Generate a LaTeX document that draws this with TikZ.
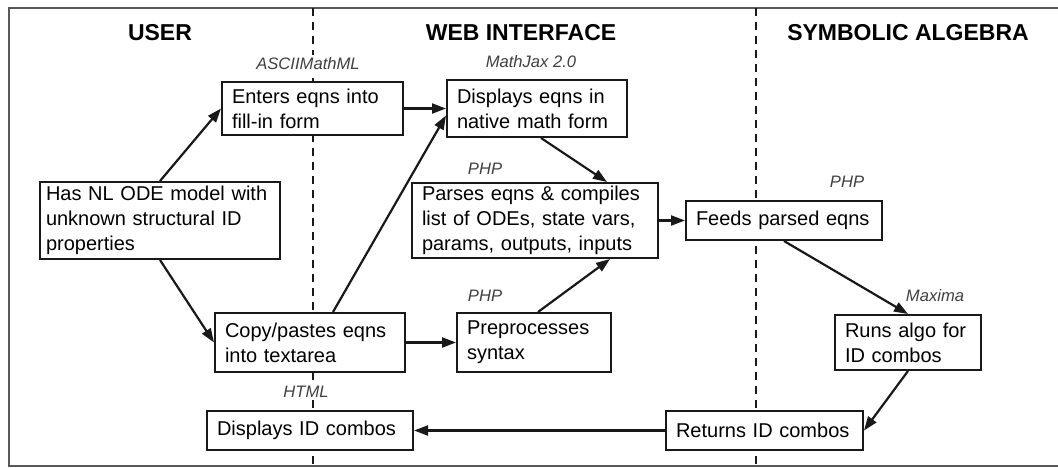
\documentclass[tikz,border=0pt]{standalone}
\usepackage{fontspec}
\setmainfont{Liberation Sans}
\usetikzlibrary{
    arrows.meta,
    positioning
}
\definecolor{inkgray}{rgb}{0.1, 0.1, 0.1}
\definecolor{notegray}{rgb}{0.25, 0.25, 0.25}
\tikzstyle{stage} = [
    rectangle,
    draw=inkgray,
    line width=1pt,
    fill=white,
    inner xsep=5pt,
    inner ysep=1pt,
    align=left,
    font=\fontsize{10}{12.5}\selectfont
]
\tikzstyle{tool} = [
    fill=white,
    inner sep=1pt,
    text=notegray,
    font=\fontsize{8.3}{10}\selectfont\itshape
]
\tikzstyle{lane} = [
    font=\fontsize{11.5}{14}\selectfont\bfseries
]
\tikzstyle{arrow} = [
    ->,
    >={Triangle[length=7pt,width=5pt]},
    line width=1.1pt,
    draw=inkgray
]
\tikzstyle{divider} = [
    dash pattern=on 4pt off 3pt,
    line width=1pt,
    draw=inkgray
]

\begin{document}
\begin{tikzpicture}[x=0.5pt, y=-0.5pt]
        \useasboundingbox (0,0) rectangle (1058,467);
        % Frame and lanes
        \draw[line width=1pt, draw=gray!70!black] (1058,8) -- (9,8) -- (9,466) -- (1058,466);
        \draw[divider] (313,8) -- (313,466);
        \draw[divider] (756,8) -- (756,466);
        \node[lane] (user) at (160,33) {USER};
        \node[lane] (web) at (521,33) {WEB INTERFACE};
        \node[lane] (alg) at (908,33) {SYMBOLIC ALGEBRA};

        % User side
        \node[stage, inner xsep=3pt, text width=114pt, minimum height=38.5pt] (model) at (160,220.5) {Has NL ODE model with\\unknown structural ID\\properties};
        \node[stage, text width=80.5pt, minimum height=26.5pt] (enter) at (312.5,108.5) {Enters eqns into\\fill-in form};
        \node[stage, text width=85pt, minimum height=29.5pt] (copy) at (310,342.5) {Copy/pastes eqns\\into textarea};
        \node[stage, text width=93pt, minimum height=19.5pt] (shows) at (310,430.5) {Displays ID combos};

        % Web interface
        \node[stage, text width=80pt, minimum height=28.5pt] (display) at (537,108.5) {Displays eqns in\\native math form};
        \node[stage, text width=113pt, minimum height=37.5pt] (parse) at (535,220.5) {Parses eqns \& compiles\\list of ODEs, state vars,\\params, outputs, inputs};
        \node[stage, text width=67pt, minimum height=29.5pt] (prep) at (534,342.5) {Preprocesses\\syntax};
        \node[stage, text width=88pt, minimum height=19.5pt] (feed) at (784,220.5) {Feeds parsed eqns};
        \node[stage, text width=88.5pt, minimum height=19.5pt] (returns) at (764.5,430.5) {Returns ID combos};

        % Symbolic algebra
        \node[stage, text width=63pt, minimum height=27.5pt] (runs) at (908,342.5) {Runs algo for\\ID combos};

        % Tools
        \node[tool, above=4.5pt of enter, xshift=-2.25pt] (ascii) {ASCIIMathML};
        \node[tool, above=4.5pt of display, xshift=-3pt] (mathjax) {MathJax 2.0};
        \node[tool, above=2.5pt of parse, xshift=-25pt] (phpparse) {PHP};
        \node[tool, above=5pt of feed, xshift=31.5pt] (phpfeed) {PHP};
        \node[tool, above=4pt of prep, xshift=-24.5pt] (phpprep) {PHP};
        \node[tool, above=5pt of runs, xshift=13.5pt] (maxima) {Maxima};
        \node[tool, above=5pt of shows, xshift=-2pt] (html) {HTML};

        % Arrows
        \draw[arrow] (model.north) -- (enter.west);
        \draw[arrow] (model.south) -- (copy.west);
        \draw[arrow] (enter.east) -- (display.west);
        \draw[arrow] ([xshift=11.5pt]copy.north) -- ([yshift=-3.5pt]display.west);
        \draw[arrow] (copy.east) -- (prep.west);
        \draw[arrow] ([xshift=2pt]display.south) -- ([xshift=36pt]parse.north);
        \draw[arrow] ([xshift=2pt]prep.north) -- ([xshift=37.5pt]parse.south);
        \draw[arrow] (parse.east) -- (feed.west);
        \draw[arrow] (feed.south) -- (runs.north);
        \draw[arrow] (runs.south) -- (returns.east);
        \draw[arrow] (returns.west) -- (shows.east);
    \end{tikzpicture}
\end{document}
